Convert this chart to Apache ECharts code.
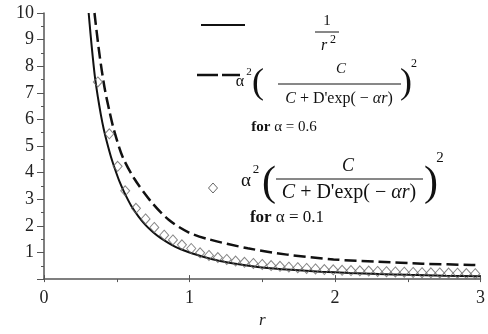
<!DOCTYPE html>
<html>
<head>
<meta charset="utf-8">
<script src="https://cdn.jsdelivr.net/npm/echarts@6/dist/echarts.min.js"></script>
<style>
  html, body { margin: 0; padding: 0; background: #fff; }
  #chart { width: 488px; height: 334px; }
</style>
</head>
<body>
<div id="chart"></div>
<script>
// values
const rSolid = [0.307, 0.32, 0.335, 0.35, 0.37, 0.39, 0.41, 0.43, 0.46, 0.49, 0.52, 0.55, 0.6, 0.65, 0.7, 0.75, 0.8, 0.9, 1.0, 1.1, 1.2, 1.35, 1.5, 1.7, 1.9, 2.1, 2.3, 2.5, 2.75, 3.0];
const ySolid = [10.0, 9.2, 8.35, 7.6, 6.85, 6.2, 5.65, 5.2, 4.6, 4.1, 3.65, 3.28, 2.75, 2.35, 2.02, 1.76, 1.55, 1.22, 1.0, 0.83, 0.69, 0.55, 0.44, 0.35, 0.28, 0.23, 0.19, 0.16, 0.13, 0.11];

const rDash = [0.347, 0.38, 0.415, 0.45, 0.483, 0.54, 0.62, 0.73, 0.857, 0.993, 1.13, 1.4, 1.67, 1.99, 2.3, 2.6, 2.94, 3.0];
const yDash = [10.0, 8.5, 7.23, 6.3, 5.56, 4.6, 3.78, 2.95, 2.23, 1.76, 1.5, 1.16, 0.92, 0.74, 0.65, 0.58, 0.53, 0.52];

const rDiamond = [0.37, 0.449, 0.506, 0.558, 0.632, 0.698, 0.758, 0.826, 0.886, 0.948, 1.012,
  1.073, 1.134, 1.195, 1.256, 1.317, 1.378, 1.439, 1.5, 1.561, 1.622, 1.683, 1.744, 1.805, 1.866, 1.927, 1.988,
  2.049, 2.11, 2.171, 2.232, 2.293, 2.354, 2.415, 2.476, 2.537, 2.598, 2.659, 2.72, 2.781, 2.842, 2.903, 2.964];
const yDiamond = [7.41, 5.46, 4.24, 3.32, 2.66, 2.26, 1.94, 1.65, 1.47, 1.29, 1.15,
  0.99, 0.89, 0.81, 0.74, 0.68, 0.63, 0.59, 0.55, 0.51, 0.48, 0.45, 0.43, 0.40, 0.38, 0.36, 0.35,
  0.33, 0.32, 0.31, 0.30, 0.29, 0.28, 0.27, 0.26, 0.25, 0.24, 0.235, 0.23, 0.225, 0.22, 0.21, 0.205];

const xTicks = [0, 1, 2, 3];

const zip = (xs, ys) => xs.map((x, i) => [x, ys[i]]);
const serif = '"Liberation Serif", "DejaVu Serif", serif';
const ink = '#111';

function txt(text, x, y, font, rich) {
  return {
    type: 'text',
    style: {
      text: text, x: x, y: y,
      font: font,
      fill: ink,
      rich: rich,
      align: 'center', verticalAlign: 'middle',
      textAlign: 'center', textVerticalAlign: 'middle'
    }
  };
}
function rule(x1, x2, y, w) {
  return { type: 'line', shape: { x1: x1, y1: y, x2: x2, y2: y }, style: { stroke: ink, lineWidth: w || 1 } };
}
function richSet(size) {
  return {
    i: { fontFamily: serif, fontStyle: 'italic', fontSize: size, fill: ink, color: ink },
    b: { fontFamily: serif, fontWeight: 'bold', fontSize: size, fill: ink, color: ink }
  };
}

const chart = echarts.init(document.getElementById('chart'));
chart.setOption({
  animation: false,
  backgroundColor: '#fff',
  grid: { left: 44, right: 4, top: 13, bottom: 41 },
  xAxis: [{
    type: 'value', min: 0, max: 3, interval: 1,
    axisLine: { lineStyle: { color: '#555', width: 1.5 } },
    axisTick: { inside: true, length: 4, lineStyle: { color: '#555' } },
    axisLabel: { margin: 10, fontFamily: serif, fontSize: 18, color: '#222',
      formatter: v => xTicks.indexOf(v) >= 0 ? String(v) : '' },
    splitLine: { show: false },
    name: 'r', nameLocation: 'middle', nameGap: 30,
    nameTextStyle: { fontFamily: serif, fontStyle: 'italic', fontSize: 17, color: '#222' }
  }, {
    type: 'value', min: 0, max: 3, interval: 0.5, position: 'bottom',
    axisLine: { show: false },
    axisTick: { inside: false, length: 3, lineStyle: { color: '#555' } },
    axisLabel: { show: false },
    splitLine: { show: false }
  }],
  yAxis: {
    type: 'value', min: 0, max: 10, interval: 1,
    axisLine: { show: true, lineStyle: { color: '#555', width: 1.5 } },
    axisTick: { length: 7, lineStyle: { color: '#555' } },
    minorTick: { show: true, splitNumber: 2, length: 3, lineStyle: { color: '#555' } },
    axisLabel: { margin: 10, fontFamily: serif, fontSize: 18, color: '#222',
      formatter: v => v === 0 ? '' : String(v) },
    splitLine: { show: false }
  },
  series: [
    {
      type: 'line', data: zip(rSolid, ySolid), smooth: 0.2, showSymbol: false,
      lineStyle: { color: ink, width: 2 }, z: 3
    },
    {
      type: 'line', data: zip(rDash, yDash), smooth: 0.3, showSymbol: false,
      lineStyle: { color: ink, width: 2.5, type: [12, 5] }, z: 3
    },
    {
      type: 'scatter', data: zip(rDiamond, yDiamond), symbol: 'diamond', symbolSize: [9, 10],
      itemStyle: { color: 'rgba(255,255,255,0)', borderColor: '#666', borderWidth: 1 }, z: 4
    }
  ],
  graphic: [
    // legend 1: 1/r^2
    rule(201, 245, 25, 2),
    txt('1', 327, 21, '15px ' + serif),
    rule(315, 339, 32, 1),
    txt('r', 324, 46, 'italic 16px ' + serif),
    txt('2', 333, 40, '12px ' + serif),

    // legend 2: dashed, alpha = 0.6
    rule(197, 218, 75, 2.5),
    rule(222, 240, 75, 2.5),
    txt('α', 240, 82, '16px ' + serif),
    txt('2', 249, 72, '11px ' + serif),
    txt('(', 258, 84, '36px ' + serif),
    txt('C', 341, 69, 'italic 15px ' + serif),
    rule(278, 401, 84, 1),
    txt('{i|C} + D\'exp( − {i|αr})', 339, 99, '16px ' + serif, richSet(16)),
    txt(')', 406, 84, '36px ' + serif),
    txt('2', 414, 64, '12px ' + serif),
    txt('{b|for} α = 0.6', 284, 127, '15px ' + serif, richSet(15)),

    // legend 3: diamonds, alpha = 0.1
    { type: 'polygon', shape: { points: [[213, 183], [217.5, 188], [213, 193], [208.5, 188]] },
      style: { fill: 'none', stroke: '#666', lineWidth: 1 } },
    txt('α', 246, 181, '19px ' + serif),
    txt('2', 256, 170, '13px ' + serif),
    txt('(', 269, 184, '42px ' + serif),
    txt('C', 348, 166, 'italic 18px ' + serif),
    rule(276, 423, 179, 1),
    txt('{i|C} + D\'exp( − {i|αr})', 349, 193, '20px ' + serif, richSet(20)),
    txt(')', 431, 184, '42px ' + serif),
    txt('2', 440, 158, '15px ' + serif),
    txt('{b|for} α = 0.1', 287, 218, '17px ' + serif, richSet(17))
  ]
});
</script>
</body>
</html>
